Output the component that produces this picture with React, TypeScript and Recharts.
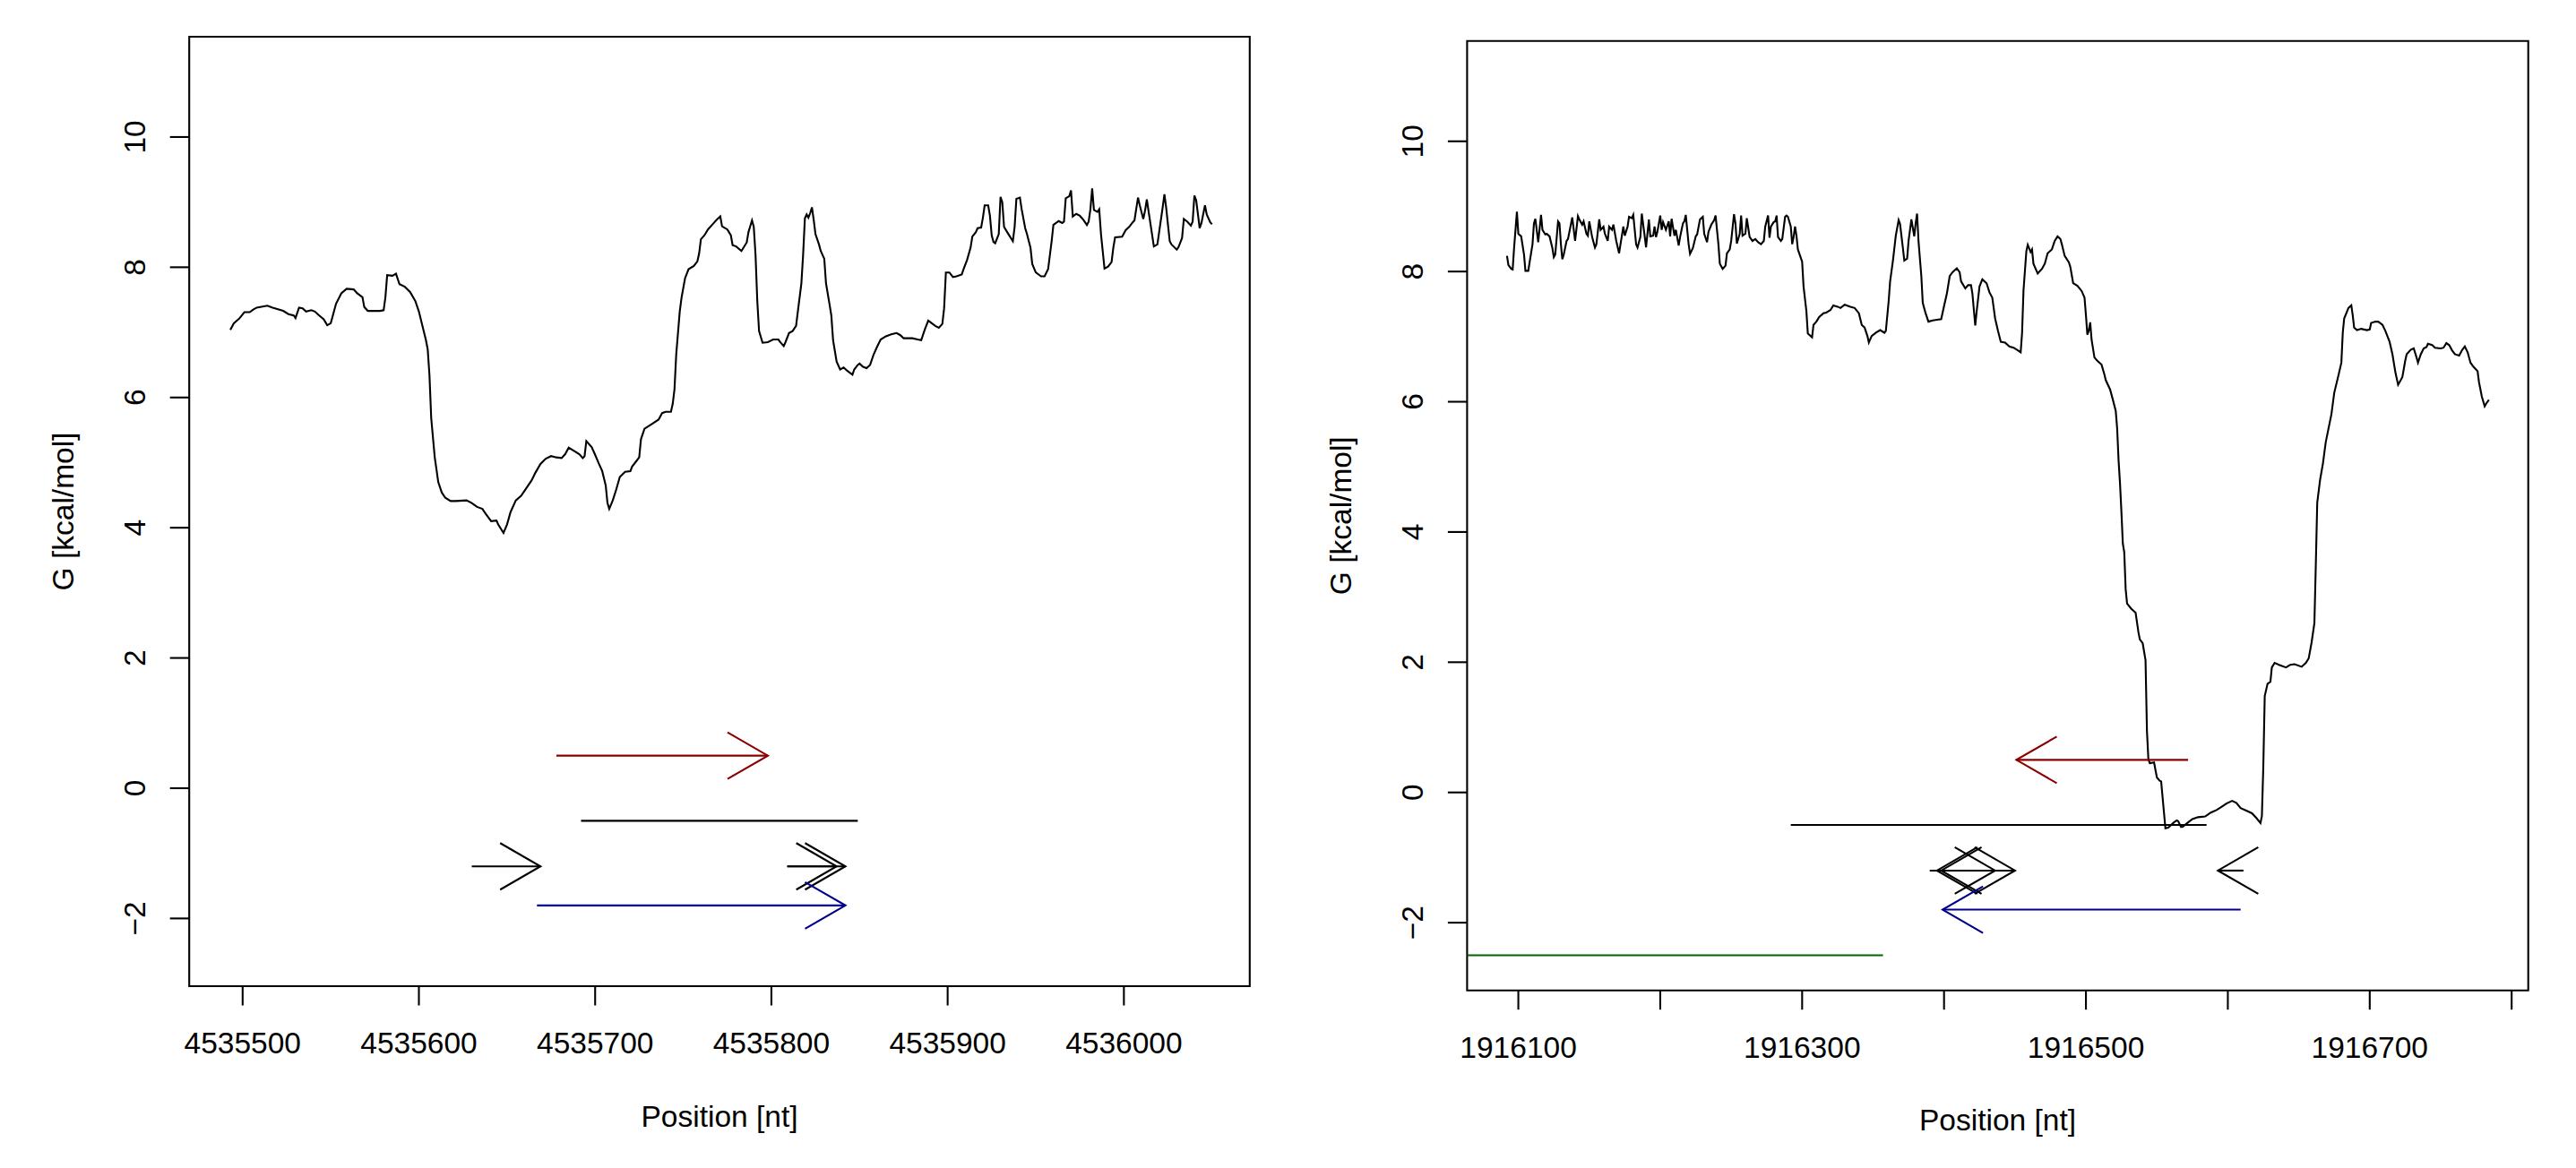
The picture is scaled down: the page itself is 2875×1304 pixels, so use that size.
// Folding energy profiles (two loci) with feature arrows underneath
import React from 'react';
import { ComposedChart, Line, XAxis, YAxis, ReferenceLine, ReferenceArea, Label } from 'recharts';

const FONT = "'Liberation Sans', Arial, Helvetica, sans-serif";
const FS = 33.5;
const LW = 2.1;

// ---- left locus ----
const leftPos = [
  4535493, 4535495, 4535498, 4535501, 4535504, 4535506, 4535508, 4535514, 4535517, 4535523, 4535526, 4535529,
  4535530, 4535532, 4535534, 4535536, 4535539, 4535541, 4535543, 4535546, 4535548, 4535550, 4535553, 4535556,
  4535559, 4535563, 4535565, 4535568, 4535569, 4535571, 4535574, 4535578, 4535580, 4535581, 4535582, 4535585,
  4535587, 4535589, 4535592, 4535595, 4535598, 4535600, 4535602, 4535604, 4535605, 4535606, 4535607, 4535609,
  4535611, 4535613, 4535615, 4535618, 4535621, 4535627, 4535630, 4535633, 4535636, 4535638, 4535641, 4535644,
  4535645, 4535648, 4535650, 4535652, 4535655, 4535658, 4535661, 4535664, 4535666, 4535669, 4535672, 4535675,
  4535678, 4535681, 4535683, 4535685, 4535688, 4535691, 4535693, 4535694, 4535695, 4535698, 4535700, 4535702,
  4535704, 4535706, 4535707, 4535708, 4535710, 4535712, 4535714, 4535717, 4535720, 4535721, 4535723, 4535725,
  4535726, 4535728, 4535732, 4535736, 4535738, 4535740, 4535743, 4535744, 4535745, 4535746, 4535748, 4535749,
  4535751, 4535753, 4535756, 4535758, 4535759, 4535760, 4535762, 4535764, 4535767, 4535769, 4535771, 4535772,
  4535775, 4535777, 4535778,
  4535780, 4535783, 4535786, 4535787, 4535789, 4535790, 4535791, 4535792, 4535793, 4535795, 4535798, 4535801,
  4535804, 4535805, 4535807, 4535808, 4535810, 4535812, 4535814, 4535815, 4535817, 4535818, 4535819, 4535820,
  4535821, 4535822, 4535823, 4535824, 4535825, 4535827, 4535828, 4535830, 4535831, 4535833, 4535834, 4535835,
  4535837, 4535839, 4535841, 4535843, 4535846, 4535847, 4535849, 4535850, 4535852, 4535854, 4535856, 4535858,
  4535860, 4535862, 4535865, 4535868, 4535871, 4535873, 4535875, 4535880, 4535883, 4535885, 4535887, 4535889,
  4535891, 4535893, 4535895, 4535897, 4535898, 4535899, 4535901, 4535903, 4535905, 4535908, 4535909, 4535911,
  4535913, 4535914, 4535916, 4535917, 4535919, 4535920, 4535921, 4535923, 4535924, 4535925, 4535926, 4535927,
  4535929, 4535930, 4535931, 4535932, 4535934, 4535937, 4535938, 4535939, 4535941, 4535942, 4535944, 4535945,
  4535947, 4535948, 4535950, 4535953, 4535955, 4535957, 4535959, 4535960, 4535963, 4535965, 4535966, 4535967,
  4535969, 4535970, 4535971, 4535973, 4535975, 4535977, 4535979, 4535980, 4535981, 4535982, 4535983, 4535985,
  4535986, 4535987, 4535989, 4535991, 4535993, 4535994, 4535995, 4535999, 4536001, 4536003, 4536005, 4536006,
  4536008, 4536009, 4536011, 4536012, 4536013, 4536015, 4536017, 4536019, 4536020, 4536022, 4536023, 4536024,
  4536026, 4536027, 4536030, 4536031, 4536033, 4536034, 4536036, 4536038, 4536039, 4536040, 4536041, 4536043,
  4536044, 4536046, 4536047, 4536049, 4536050,
];
const leftG = [
  7.04, 7.14, 7.21, 7.31, 7.31, 7.35, 7.38, 7.41, 7.38, 7.33, 7.28, 7.26,
  7.22, 7.38, 7.37, 7.32, 7.34, 7.32, 7.27, 7.2, 7.11, 7.14, 7.44, 7.6,
  7.67, 7.66, 7.6, 7.54, 7.39, 7.33, 7.33, 7.33, 7.34, 7.54, 7.88, 7.87,
  7.9, 7.74, 7.7, 7.62, 7.48, 7.32, 7.1, 6.88, 6.74, 6.34, 5.68, 5.08,
  4.7, 4.54, 4.46, 4.41, 4.41, 4.42, 4.38, 4.32, 4.29, 4.21, 4.1, 4.11,
  4.05, 3.92, 4.05, 4.24, 4.42, 4.49, 4.61, 4.73, 4.84, 4.98, 5.06, 5.1,
  5.08, 5.07, 5.13, 5.23, 5.18, 5.13, 5.07, 5.1, 5.33, 5.24, 5.12, 4.99,
  4.87, 4.65, 4.38, 4.29, 4.42, 4.59, 4.78, 4.86, 4.87, 4.94, 5.01, 5.08,
  5.36, 5.52, 5.59, 5.66, 5.76, 5.78, 5.78, 5.9, 6.12, 6.66, 7.32, 7.53,
  7.83, 7.97, 8.02, 8.09, 8.21, 8.43, 8.49, 8.58, 8.67, 8.73, 8.78, 8.63,
  8.58, 8.49, 8.34,
  8.32, 8.25, 8.38, 8.54, 8.72, 8.62, 8.19, 7.48, 7.02, 6.84, 6.85, 6.89,
  6.89, 6.85, 6.79, 6.85, 6.99, 7.02, 7.1, 7.32, 7.75, 8.19, 8.75, 8.81,
  8.76, 8.83, 8.92, 8.73, 8.51, 8.35, 8.25, 8.13, 7.75, 7.43, 7.26, 6.88,
  6.55, 6.43, 6.46, 6.41, 6.35, 6.43, 6.5, 6.52, 6.47, 6.45, 6.5, 6.66,
  6.78, 6.89, 6.94, 6.97, 6.99, 6.96, 6.91, 6.91, 6.89, 6.88, 7.04, 7.18,
  7.14, 7.1, 7.07, 7.13, 7.37, 7.92, 7.92, 7.85, 7.86, 7.89, 7.97, 8.11,
  8.3, 8.47, 8.54, 8.6, 8.61, 8.76, 8.95, 8.95, 8.79, 8.49, 8.39, 8.37,
  8.51, 9.08, 9.0, 8.62, 8.53, 8.4, 8.62, 9.05, 9.07, 8.89, 8.6, 8.51,
  8.3, 8.05, 7.92, 7.86, 7.86, 7.97, 8.4, 8.65, 8.71, 8.68, 8.7, 9.06,
  9.09, 9.18, 8.78, 8.82, 8.79, 8.73, 8.65, 8.7, 8.89, 9.21, 8.88, 8.85,
  8.89, 8.51, 7.98, 8.01, 8.08, 8.3, 8.46, 8.47, 8.57, 8.62, 8.69, 8.72,
  9.07, 8.95, 8.74, 8.87, 9.04, 8.68, 8.32, 8.35, 8.54, 8.92, 9.12, 8.91,
  8.4, 8.35, 8.27, 8.31, 8.45, 8.74, 8.7, 8.64, 8.7, 9.1, 9.03, 8.6,
  8.68, 8.95, 8.81, 8.69, 8.66,
];
const leftXTicks = [4535500, 4535600, 4535700, 4535800, 4535900, 4536000];

// left features (from -> to), one pair of arrays per track
const leftRedFrom = [4535678];
const leftRedTo = [4535798];
const leftSpanFrom = [4535692];
const leftSpanTo = [4535849];
const leftBlackFrom = [4535630, 4535809, 4535809];
const leftBlackTo = [4535669, 4535837, 4535842];
const leftBlueFrom = [4535667];
const leftBlueTo = [4535842];

// ---- right locus ----
const rightPos = [
  1916092, 1916093, 1916095, 1916096, 1916097, 1916099, 1916100, 1916102, 1916104, 1916105, 1916107, 1916108,
  1916110, 1916111, 1916112, 1916114, 1916116, 1916117, 1916119, 1916120, 1916122, 1916124, 1916125, 1916126,
  1916128, 1916129, 1916130, 1916131, 1916132, 1916134, 1916135, 1916138, 1916140, 1916142, 1916143, 1916145,
  1916146, 1916148, 1916149, 1916150, 1916152, 1916154, 1916155, 1916157, 1916158, 1916160, 1916161, 1916163,
  1916164, 1916166, 1916167, 1916169, 1916171, 1916172, 1916174, 1916175, 1916177, 1916178, 1916180, 1916181,
  1916183, 1916184, 1916186, 1916187, 1916189, 1916190, 1916192, 1916193, 1916195, 1916196, 1916197, 1916198,
  1916200, 1916201, 1916202, 1916204, 1916206, 1916207, 1916208, 1916210, 1916211, 1916213, 1916214, 1916216,
  1916217, 1916218, 1916220, 1916221, 1916223, 1916225, 1916226, 1916228, 1916230, 1916231, 1916233, 1916234,
  1916236, 1916238, 1916239, 1916241, 1916242, 1916244, 1916246, 1916247, 1916249, 1916250, 1916252, 1916253,
  1916254, 1916256, 1916257, 1916258, 1916260, 1916261, 1916263, 1916265, 1916267, 1916269, 1916271, 1916273,
  1916274, 1916276, 1916277, 1916278, 1916280, 1916281, 1916282, 1916283, 1916285, 1916286, 1916288, 1916289,
  1916290, 1916292, 1916293, 1916294, 1916295, 1916296, 1916297, 1916300, 1916301, 1916303, 1916304, 1916305,
  1916307, 1916308, 1916310, 1916312, 1916315, 1916317, 1916320, 1916322, 1916325, 1916327, 1916330, 1916334,
  1916337, 1916340, 1916342, 1916344, 1916346, 1916347, 1916349, 1916352, 1916355, 1916358, 1916359, 1916361,
  1916362, 1916364, 1916366, 1916368, 1916369, 1916371, 1916372, 1916374, 1916375, 1916377, 1916379, 1916380,
  1916381, 1916382, 1916384, 1916385, 1916387, 1916389, 1916392, 1916395, 1916398, 1916400, 1916402, 1916404,
  1916406, 1916409, 1916411, 1916412, 1916415, 1916417, 1916419, 1916420, 1916422, 1916423, 1916425, 1916427,
  1916430, 1916432, 1916434, 1916436, 1916438, 1916440, 1916443, 1916446, 1916449, 1916452, 1916454, 1916455,
  1916456, 1916458, 1916459, 1916461, 1916462, 1916463, 1916466, 1916469, 1916471, 1916473, 1916476, 1916478,
  1916480, 1916482, 1916483, 1916485, 1916488, 1916489, 1916491, 1916494, 1916497, 1916499, 1916500, 1916501,
  1916502, 1916503, 1916504, 1916506, 1916508, 1916511, 1916513, 1916514, 1916517, 1916519, 1916521, 1916522,
  1916523, 1916524, 1916525, 1916526, 1916527, 1916528, 1916529, 1916532, 1916535, 1916537, 1916538, 1916540,
  1916542, 1916543, 1916544, 1916545, 1916548, 1916550, 1916552, 1916553, 1916555, 1916556, 1916558, 1916562,
  1916564, 1916565, 1916567, 1916568, 1916572, 1916575, 1916579, 1916584, 1916588, 1916592, 1916595, 1916599,
  1916603, 1916606, 1916609, 1916613, 1916617, 1916620, 1916623, 1916624, 1916625, 1916626, 1916628, 1916630,
  1916631, 1916633, 1916636, 1916641, 1916644, 1916647, 1916652, 1916655, 1916657, 1916659, 1916661, 1916662,
  1916663, 1916665, 1916667, 1916669, 1916673, 1916675, 1916678, 1916680, 1916681, 1916682, 1916685, 1916687,
  1916688, 1916689, 1916691, 1916694, 1916698, 1916700, 1916701, 1916704, 1916706, 1916709, 1916711, 1916714,
  1916716, 1916718, 1916720, 1916723, 1916725, 1916726, 1916729, 1916731, 1916733, 1916734, 1916736, 1916738,
  1916740, 1916741, 1916744, 1916746, 1916750, 1916752, 1916754, 1916756, 1916758, 1916760, 1916763, 1916765,
  1916767, 1916769, 1916771, 1916773, 1916776, 1916777, 1916779, 1916781, 1916782, 1916784,
];
const rightG = [
  8.24, 8.1, 8.04, 8.03, 8.36, 8.92, 8.58, 8.54, 8.26, 8.01, 8.01, 8.15,
  8.42, 8.74, 8.81, 8.45, 8.87, 8.64, 8.57, 8.58, 8.54, 8.36, 8.22, 8.26,
  8.77, 8.74, 8.42, 8.19, 8.26, 8.47, 8.5, 8.83, 8.47, 8.85, 8.8, 8.72,
  8.77, 8.58, 8.55, 8.77, 8.53, 8.37, 8.42, 8.8, 8.64, 8.69, 8.58, 8.47,
  8.69, 8.64, 8.72, 8.47, 8.28, 8.42, 8.69, 8.55, 8.69, 8.84, 8.82, 8.87,
  8.42, 8.37, 8.53, 8.89, 8.55, 8.37, 8.8, 8.54, 8.55, 8.69, 8.53, 8.61,
  8.86, 8.64, 8.76, 8.64, 8.77, 8.54, 8.81, 8.55, 8.64, 8.4, 8.53, 8.74,
  8.77, 8.87, 8.42, 8.27, 8.36, 8.54, 8.57, 8.8, 8.84, 8.58, 8.45, 8.61,
  8.72, 8.79, 8.86, 8.42, 8.12, 8.04, 8.09, 8.28, 8.34, 8.47, 8.88, 8.74,
  8.43, 8.58, 8.86, 8.55, 8.58, 8.82, 8.53, 8.47, 8.5, 8.45, 8.42, 8.47,
  8.69, 8.86, 8.52, 8.69, 8.76, 8.77, 8.86, 8.53, 8.47, 8.5, 8.84, 8.86,
  8.84, 8.69, 8.42, 8.53, 8.69, 8.55, 8.34, 8.15, 7.77, 7.39, 7.05, 7.03,
  6.99, 7.18, 7.23, 7.3, 7.36, 7.37, 7.41, 7.48, 7.46, 7.44, 7.49, 7.46,
  7.44, 7.36, 7.18, 7.14, 7.01, 6.91, 7.01, 7.06, 7.1, 7.06, 7.09, 7.55,
  7.85, 8.17, 8.55, 8.79, 8.73, 8.36, 8.17, 8.2, 8.47, 8.8, 8.54, 8.74,
  8.89, 8.47, 7.93, 7.52, 7.36, 7.23, 7.25, 7.26, 7.27, 7.47, 7.66, 7.93,
  7.99, 8.05, 7.99, 7.85, 7.74, 7.79, 7.79, 7.66, 7.17, 7.39, 7.77, 7.88,
  7.82, 7.68, 7.6, 7.28, 7.09, 6.92, 6.91, 6.85, 6.83, 6.79, 6.76, 7.06,
  7.71, 8.31, 8.41, 8.3, 8.34, 8.12, 7.97, 8.04, 8.12, 8.28, 8.34, 8.47,
  8.54, 8.5, 8.42, 8.24, 8.14, 8.07, 7.82, 7.78, 7.7, 7.6, 7.33, 7.03,
  7.09, 7.22, 6.95, 6.68, 6.63, 6.57, 6.42, 6.33, 6.19, 6.03, 5.86, 5.59,
  5.1, 4.75, 4.31, 3.82, 3.69, 3.12, 2.9, 2.82, 2.76, 2.46, 2.35, 2.29,
  2.03, 0.94, 0.51, 0.45, 0.46, 0.23, 0.18, 0.17, -0.31, -0.55, -0.54, -0.46,
  -0.43, -0.44, -0.53, -0.53, -0.46, -0.41, -0.38, -0.37, -0.31, -0.27, -0.23, -0.17,
  -0.13, -0.16, -0.24, -0.28, -0.32, -0.39, -0.47, -0.36, 0.4, 1.48, 1.67, 1.7,
  1.92, 1.99, 1.96, 1.92, 1.96, 1.97, 1.93, 1.99, 2.06, 2.3, 2.6, 3.5,
  4.45, 4.8, 5.05, 5.38, 5.81, 6.14, 6.41, 6.6, 7.06, 7.28, 7.44, 7.48,
  7.33, 7.14, 7.1, 7.12, 7.1, 7.11, 7.21, 7.23, 7.23, 7.18, 7.09, 6.92,
  6.73, 6.46, 6.26, 6.38, 6.63, 6.73, 6.8, 6.82, 6.68, 6.6, 6.73, 6.82,
  6.84, 6.89, 6.87, 6.83, 6.82, 6.83, 6.9, 6.87, 6.79, 6.73, 6.71, 6.79,
  6.85, 6.76, 6.6, 6.54, 6.47, 6.3, 6.08, 5.93, 5.97, 6.03,
];
const rightXTicks = [1916100, 1916200, 1916300, 1916400, 1916500, 1916600, 1916700, 1916800];
const rightXLabels = [1916100, 1916300, 1916500, 1916700];

const rightRedFrom = [1916572];
const rightRedTo = [1916451];
const rightSpanFrom = [1916292];
const rightSpanTo = [1916585];
const rightBlackFrom = [1916390, 1916390, 1916450, 1916446, 1916611];
const rightBlackTo = [1916450, 1916436, 1916395, 1916398, 1916593];
const rightBlueFrom = [1916609];
const rightBlueTo = [1916399];
const rightGreenFrom = [1916064];
const rightGreenTo = [1916357];

// track heights (y) for the feature rows
const redLevel = 0.5;
const spanLevel = -0.5;
const blackLevel = -1.2;
const blueLevel = -1.8;
const greenLevel = -2.5;

const yTicks = [-2, 0, 2, 4, 6, 8, 10];
const Y_DOMAIN: [number, number] = [-3.04, 11.54];

type Track = { from: number[]; to: number[]; level: number; color: string; head: boolean };

const fmt = (v: number) => (v < 0 ? '\u2212' + Math.abs(v) : String(v));

// R style open arrowhead (30 deg, fixed length)
function arrowShape(color: string, head: boolean) {
  return (p: any) => {
    const { x1, y1, x2, y2 } = p;
    if ([x1, y1, x2, y2].some((v) => typeof v !== 'number' || isNaN(v))) return <g />;
    const a = Math.atan2(y2 - y1, x2 - x1);
    const L = 52;
    const t = Math.PI / 6;
    const hx1 = x2 - L * Math.cos(a - t);
    const hy1 = y2 - L * Math.sin(a - t);
    const hx2 = x2 - L * Math.cos(a + t);
    const hy2 = y2 - L * Math.sin(a + t);
    return (
      <g>
        <line x1={x1} y1={y1} x2={x2} y2={y2} stroke={color} strokeWidth={LW} />
        {head && (
          <polyline
            points={`${hx1},${hy1} ${x2},${y2} ${hx2},${hy2}`}
            fill="none"
            stroke={color}
            strokeWidth={LW}
          />
        )}
      </g>
    );
  };
}

const makeXTick = (labels: number[] | null) => (p: any) => {
  const v = p.payload?.value;
  if (labels && !labels.includes(v)) return <g />;
  return (
    <text x={p.x} y={p.y + 53.5} textAnchor="middle" fontFamily={FONT} fontSize={FS} fill="#000">
      {fmt(v)}
    </text>
  );
};

const YTick = (p: any) => {
  const cx = p.x - 39.5;
  const cy = p.y;
  return (
    <text
      x={cx}
      y={cy}
      dy={FS * 0.36}
      transform={`rotate(-90 ${cx} ${cy})`}
      textAnchor="middle"
      fontFamily={FONT}
      fontSize={FS}
      fill="#000"
    >
      {fmt(p.payload?.value)}
    </text>
  );
};

interface PanelProps {
  pos: number[];
  g: number[];
  xDomain: [number, number];
  xTicks: number[];
  xLabels: number[] | null;
  tracks: Track[];
  left: number;
  width: number;
  margin: { top: number; right: number; bottom: number; left: number };
}

function Panel({ pos, g, xDomain, xTicks, xLabels, tracks, left, width, margin }: PanelProps) {
  const n = Math.min(pos.length, g.length);
  const data = pos.slice(0, n).map((p, i) => ({ pos: p, g: g[i] }));

  return (
    <div style={{ position: 'absolute', left, top: 0, width, height: 1304 }}>
      <ComposedChart width={width} height={1304} data={data} margin={margin}>
        <XAxis
          type="number"
          dataKey="pos"
          domain={xDomain}
          allowDataOverflow
          ticks={xTicks}
          interval={0}
          height={100}
          tickSize={21.5}
          tickMargin={0}
          axisLine={false}
          tickLine={{ stroke: '#000', strokeWidth: LW }}
          tick={makeXTick(xLabels)}
        >
          <Label
            content={(lp: any) => {
              const vb = lp.viewBox || {};
              const cx = vb.x + vb.width / 2;
              const cy = vb.y + 144.5;
              return (
                <text x={cx} y={cy} dy={FS * 0.36} textAnchor="middle" fontFamily={FONT} fontSize={FS} fill="#000">
                  Position [nt]
                </text>
              );
            }}
          />
        </XAxis>
        <YAxis
          type="number"
          domain={Y_DOMAIN}
          allowDataOverflow
          ticks={yTicks}
          interval={0}
          width={150}
          tickSize={21.5}
          tickMargin={0}
          axisLine={false}
          tickLine={{ stroke: '#000', strokeWidth: LW }}
          tick={YTick}
        >
          <Label
            content={(lp: any) => {
              const vb = lp.viewBox || {};
              const cx = vb.x + vb.width - 141.5;
              const cy = vb.y + vb.height / 2;
              return (
                <text
                  x={cx}
                  y={cy}
                  dy={FS * 0.36}
                  transform={`rotate(-90 ${cx} ${cy})`}
                  textAnchor="middle"
                  fontFamily={FONT}
                  fontSize={FS}
                  fill="#000"
                >
                  G [kcal/mol]
                </text>
              );
            }}
          />
        </YAxis>

        <ReferenceArea
          x1={xDomain[0]}
          x2={xDomain[1]}
          y1={Y_DOMAIN[0]}
          y2={Y_DOMAIN[1]}
          fill="none"
          stroke="#000"
          strokeWidth={LW}
          ifOverflow="visible"
        />

        <Line
          type="linear"
          dataKey="g"
          stroke="#000"
          strokeWidth={LW}
          dot={false}
          activeDot={false}
          isAnimationActive={false}
        />

        {tracks.flatMap((t, ti) =>
          t.from.map((f, i) => (
            <ReferenceLine
              key={`t${ti}-${i}`}
              segment={[
                { x: f, y: t.level },
                { x: t.to[i], y: t.level },
              ]}
              ifOverflow="visible"
              stroke={t.color}
              shape={arrowShape(t.color, t.head)}
            />
          ))
        )}
      </ComposedChart>
    </div>
  );
}

export default function App() {
  const leftTracks: Track[] = [
    { from: leftRedFrom, to: leftRedTo, level: redLevel, color: '#8b0000', head: true },
    { from: leftSpanFrom, to: leftSpanTo, level: spanLevel, color: '#000000', head: false },
    { from: leftBlackFrom, to: leftBlackTo, level: blackLevel, color: '#000000', head: true },
    { from: leftBlueFrom, to: leftBlueTo, level: blueLevel, color: '#00008b', head: true },
  ];
  const rightTracks: Track[] = [
    { from: rightRedFrom, to: rightRedTo, level: redLevel, color: '#8b0000', head: true },
    { from: rightSpanFrom, to: rightSpanTo, level: spanLevel, color: '#000000', head: false },
    { from: rightBlackFrom, to: rightBlackTo, level: blackLevel, color: '#000000', head: true },
    { from: rightBlueFrom, to: rightBlueTo, level: blueLevel, color: '#00008b', head: true },
    { from: rightGreenFrom, to: rightGreenTo, level: greenLevel, color: '#006400', head: false },
  ];

  return (
    <div style={{ position: 'absolute', left: 0, top: 0, width: 2875, height: 1304, background: '#fff' }}>
      <Panel
        pos={leftPos}
        g={leftG}
        xDomain={[4535469.7, 4536071.4]}
        xTicks={leftXTicks}
        xLabels={null}
        tracks={leftTracks}
        left={0}
        width={1437}
        margin={{ top: 41, right: 42.2, bottom: 103, left: 61.2 }}
      />
      <Panel
        pos={rightPos}
        g={rightG}
        xDomain={[1916063.9, 1916811.7]}
        xTicks={rightXTicks}
        xLabels={rightXLabels}
        tracks={rightTracks}
        left={1437}
        width={1438}
        margin={{ top: 45.8, right: 53.3, bottom: 98.3, left: 50.4 }}
      />
    </div>
  );
}
